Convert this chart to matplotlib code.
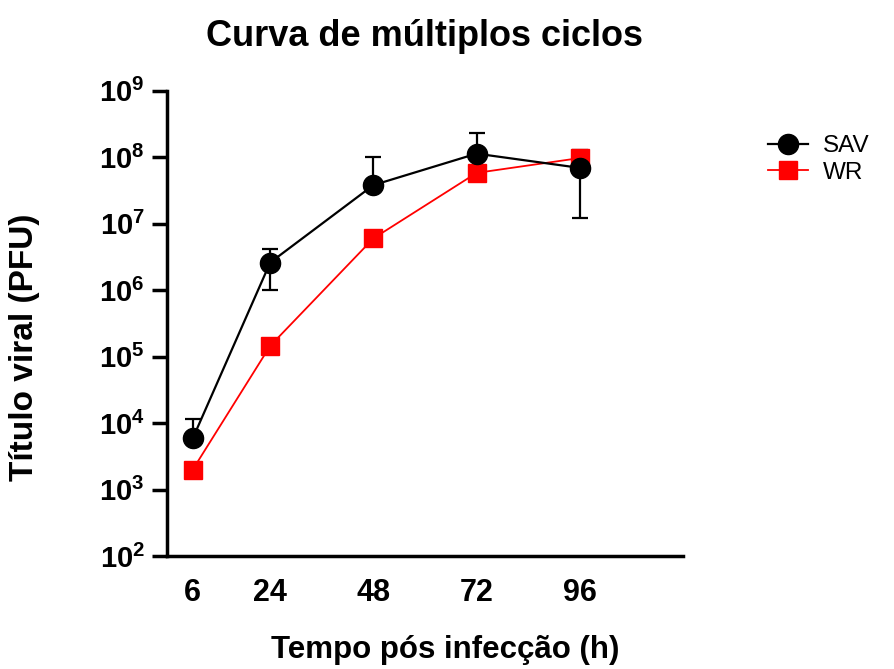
import numpy as np
import matplotlib
matplotlib.use("Agg")
import matplotlib.pyplot as plt

plt.rcParams['font.family'] = ['Liberation Sans', 'DejaVu Sans']
plt.rcParams['mathtext.fontset'] = 'custom'
plt.rcParams['mathtext.rm'] = 'Liberation Sans:bold'
plt.rcParams['mathtext.bf'] = 'Liberation Sans:bold'

# data
hours = [6, 24, 48, 72, 96]
sav = [5.9e3, 2.6e6, 3.8e7, 1.13e8, 6.9e7]
savUpper = [1.16e4, 4.1e6, 1.0e8, 2.3e8, 1.28e8]
savLower = [np.nan, 1.0e6, np.nan, np.nan, 1.2e7]
wr = [2.0e3, 1.45e5, 6.0e6, 5.8e7, 9.7e7]

yTicks = [10**k for k in range(2, 10)]

fig = plt.figure(figsize=(8.94, 6.69), dpi=100)
ax = fig.add_axes([167/894, 1-556/669, (683-167)/894, (556-90.7)/669])

sav = np.array(sav)
up = np.array(savUpper) - sav
lo = sav - np.array(savLower)
hasLo = ~np.isnan(lo)

# error bars (upper for all points, lower where the reference shows one)
ax.errorbar(hours, sav, yerr=[np.zeros_like(up), up], fmt='none',
            ecolor='black', elinewidth=1.6, capsize=5.8, capthick=1.6, zorder=2)
ax.errorbar(np.array(hours)[hasLo], sav[hasLo], yerr=[lo[hasLo], np.zeros(hasLo.sum())],
            fmt='none', ecolor='black', elinewidth=1.6, capsize=5.8, capthick=1.6, zorder=2)

ax.plot(hours, wr, color='#ff0000', lw=1.3, marker='s', ms=13.5,
        mec='#ff0000', mfc='#ff0000', label='WR', zorder=3)
ax.plot(hours, sav, color='black', lw=1.6, marker='o', ms=14.5,
        label='SAV', zorder=4)

ax.set_yscale('log')
ax.set_ylim(1e2, 1e9)
ax.set_xlim(0, 120)
ax.set_yticks(yTicks)
ax.set_yticklabels([r'$\mathbf{10^{%d}}$' % k for k in range(2, 10)])
ax.minorticks_off()
ax.set_xticks(hours)
ax.set_xticklabels([str(h) for h in hours])

for s in ['top', 'right']:
    ax.spines[s].set_visible(False)
for s in ['left', 'bottom']:
    ax.spines[s].set_linewidth(2.5)

ax.tick_params(axis='y', length=11, width=2.5, pad=5, labelsize=21)
ax.tick_params(axis='x', length=0, pad=16, labelsize=22)
for t in ax.get_xticklabels():
    t.set_fontweight('bold')

handles, labels = ax.get_legend_handles_labels()
leg = fig.legend(handles[::-1], labels[::-1], loc='upper left',
                 bbox_to_anchor=(768/894, 1-135/669), frameon=False,
                 fontsize=17.5, handlelength=1.65, handletextpad=0.6,
                 labelspacing=0.2, borderaxespad=0, borderpad=0)

fig.text(425/894, 1-36/669, 'Curva de múltiplos ciclos', ha='center', va='center',
         fontsize=26, fontweight='bold')
fig.text(445/894, 1-650/669, 'Tempo pós infecção (h)', ha='center', va='center',
         fontsize=22.5, fontweight='bold')
fig.text(25/894, 1-347/669, 'Título viral (PFU)', ha='center', va='center',
         rotation=90, fontsize=24, fontweight='bold')

fig.savefig('out.png', dpi=100)
